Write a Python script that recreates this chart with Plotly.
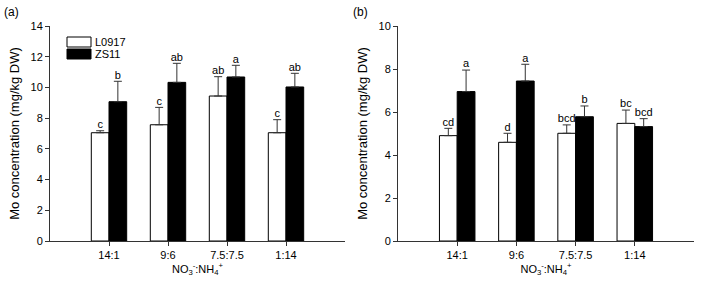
import plotly.graph_objects as go

categories = ["14:1", "9:6", "7.5:7.5", "1:14"]
series_names = ["L0917", "ZS11"]

a_L0917 = [7.05, 7.57, 9.44, 7.05]
a_L0917_err = [0.13, 1.13, 1.26, 0.85]
a_ZS11 = [9.07, 10.33, 10.68, 10.03]
a_ZS11_err = [1.33, 1.24, 0.76, 0.89]
a_L0917_letters = ["c", "c", "ab", "c"]
a_ZS11_letters = ["b", "ab", "a", "ab"]

b_L0917 = [4.90, 4.59, 5.01, 5.47]
b_L0917_err = [0.34, 0.42, 0.39, 0.62]
b_ZS11 = [6.95, 7.44, 5.78, 5.32]
b_ZS11_err = [1.00, 0.78, 0.50, 0.37]
b_L0917_letters = ["cd", "d", "bcd", "bc"]
b_ZS11_letters = ["a", "a", "b", "bcd"]

W, H = 703, 291
FONT = "Liberation Sans, Arial, sans-serif"
AX = "#333333"

def px_x(p):
    return p / W

def px_y(p):
    return 1 - p / H

fig = go.Figure()

panels = [
    ("x", "y", a_L0917, a_L0917_err, a_ZS11, a_ZS11_err, a_L0917_letters, a_ZS11_letters),
    ("x2", "y2", b_L0917, b_L0917_err, b_ZS11, b_ZS11_err, b_L0917_letters, b_ZS11_letters),
]

annotations = []
for xa, ya, lv, le, zv, ze, ll, zl in panels:
    for name, vals, errs, fill, letters in [
        (series_names[0], lv, le, "white", ll),
        (series_names[1], zv, ze, "black", zl),
    ]:
        fig.add_trace(go.Bar(
            x=categories, y=vals, name=name, xaxis=xa, yaxis=ya,
            marker=dict(color=fill, line=dict(color="black", width=1)),
            error_y=dict(type="data", array=errs, arrayminus=[0] * len(errs),
                         symmetric=False, color=AX, thickness=1, width=4),
            showlegend=False, offsetgroup=name,
        ))
        fig.add_trace(go.Scatter(
            x=categories, y=[v + e for v, e in zip(vals, errs)], xaxis=xa, yaxis=ya,
            mode="text", text=letters, textposition="top center",
            textfont=dict(family=FONT, size=11, color="#000000"),
            offsetgroup=name, showlegend=False, hoverinfo="skip", cliponaxis=False,
        ))

y_dom = [px_y(241), px_y(26)]
common_x = dict(
    type="category", range=[-1, 4], showline=True, linecolor=AX, linewidth=1,
    ticks="outside", ticklen=4, tickcolor=AX, tickfont=dict(family=FONT, size=11, color="black"),
    showgrid=False, zeroline=False, automargin=False,
    title=dict(text="NO<sub>3</sub><sup>-</sup>:NH<sub>4</sub><sup>+</sup>",
               font=dict(family=FONT, size=11, color="black"), standoff=4),
)
common_y = dict(
    showline=True, linecolor=AX, linewidth=1, ticks="outside", ticklen=4, tickcolor=AX,
    tickfont=dict(family=FONT, size=11, color="black"), showgrid=False, zeroline=False,
    domain=y_dom, automargin=False,
    title=dict(text="Mo concentration (mg/kg DW)", font=dict(family=FONT, size=13, color="black"),
               standoff=7),
)

fig.update_layout(
    template="none",
    font=dict(family=FONT, size=11, color="black"),
    width=W, height=H, margin=dict(l=0, r=0, t=0, b=0, pad=0, autoexpand=False),
    paper_bgcolor="white", plot_bgcolor="white",
    barmode="group", bargap=0.4, bargroupgap=0,
    scattermode="group", scattergap=0.4,
    xaxis=dict(common_x, domain=[px_x(50), px_x(345)], anchor="y"),
    xaxis2=dict(common_x, domain=[px_x(398), px_x(694)], anchor="y2"),
    yaxis=dict(common_y, range=[0, 14], dtick=2, anchor="x"),
    yaxis2=dict(common_y, range=[0, 10], dtick=2, anchor="x2"),
)

# panel labels
annotations.append(dict(x=px_x(2), y=px_y(12), xref="paper", yref="paper", text="(a)",
                        showarrow=False, xanchor="left", yanchor="middle",
                        font=dict(family=FONT, size=12, color="black")))
annotations.append(dict(x=px_x(351), y=px_y(12), xref="paper", yref="paper", text="(b)",
                        showarrow=False, xanchor="left", yanchor="middle",
                        font=dict(family=FONT, size=12, color="black")))

# legend (manual, inside panel a)
shapes = []
for i, (name, fill) in enumerate(zip(series_names, ["white", "black"])):
    yc = 42 + 12 * i
    shapes.append(dict(type="rect", xref="paper", yref="paper",
                       x0=px_x(67), x1=px_x(91), y0=px_y(yc + 5), y1=px_y(yc - 5),
                       fillcolor=fill, line=dict(color="black", width=1)))
    annotations.append(dict(x=px_x(93), y=px_y(yc), xref="paper", yref="paper", text=name,
                            showarrow=False, xanchor="left", yanchor="middle",
                            font=dict(family=FONT, size=11, color="black")))

fig.update_layout(annotations=annotations, shapes=shapes)
fig.write_html("out.html", config={"displayModeBar": False, "staticPlot": True},
               post_script="document.body.style.margin='0';document.body.style.overflow='hidden';")
